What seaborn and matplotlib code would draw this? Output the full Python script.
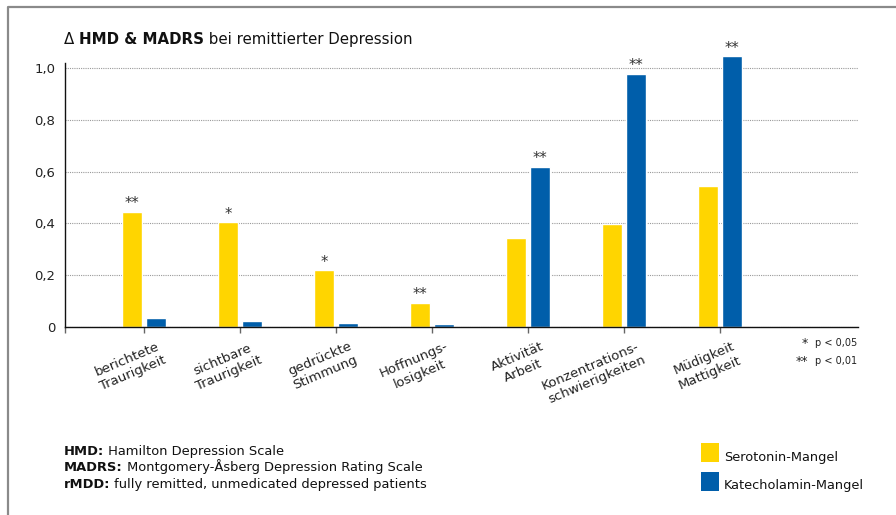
import pandas as pd
import matplotlib.pyplot as plt
import matplotlib.transforms as mtransforms
from matplotlib.lines import Line2D
from matplotlib.patches import Rectangle
import seaborn as sns

# -----------------------------
# DATA
# -----------------------------
categories = [
    "berichtete\nTraurigkeit",
    "sichtbare\nTraurigkeit",
    "gedrückte\nStimmung",
    "Hoffnungs-\nlosigkeit",
    "Aktivität\nArbeit",
    "Konzentrations-\nschwierigkeiten",
    "Müdigkeit\nMattigkeit",
]
serotonin = [0.445, 0.405, 0.22, 0.093, 0.344, 0.399, 0.545]
katecholamin = [0.035, 0.023, 0.015, 0.012, 0.618, 0.977, 1.046]
stars = ["**", "*", "*", "**", "**", "**", "**"]
star_series = [0, 0, 0, 0, 1, 1, 1]  # 0 = Serotonin, 1 = Katecholamin
y_ticks = [0, 0.2, 0.4, 0.6, 0.8, 1.0]
y_tick_labels = ["0", "0,2", "0,4", "0,6", "0,8", "1,0"]

series_names = ["Serotonin-Mangel", "Katecholamin-Mangel"]
palette = {"Serotonin-Mangel": "#FFD500", "Katecholamin-Mangel": "#005EAA"}

notes = [
    ("HMD:", " Hamilton Depression Scale"),
    ("MADRS:", " Montgomery-Åsberg Depression Rating Scale"),
    ("rMDD:", " fully remitted, unmedicated depressed patients"),
]

df = pd.DataFrame({
    "Kategorie": categories * 2,
    "Wert": serotonin + katecholamin,
    "Gruppe": [series_names[0]] * len(categories) + [series_names[1]] * len(categories),
})

# -----------------------------
# FIGURE
# -----------------------------
sns.set_theme(style="white")
plt.rcParams["font.family"] = ["DejaVu Sans"]

W, H = 896, 515
fig = plt.figure(figsize=(W / 100, H / 100), dpi=100)

px_per_unit = 259.0
ax_left, ax_right, ax_zero = 65, 858, 327
ymax = 1.1
ax = fig.add_axes([
    ax_left / W,
    1 - ax_zero / H,
    (ax_right - ax_left) / W,
    ymax * px_per_unit / H,
])

sns.barplot(
    data=df, x="Kategorie", y="Wert", hue="Gruppe",
    palette=palette, width=0.5, gap=0.2, saturation=1,
    legend=False, ax=ax,
)

ax.set_xlim(-0.823, 7.437)
ax.set_ylim(0, ymax)
ax.set_xlabel("")
ax.set_ylabel("")

# grid + spines
ax.set_yticks(y_ticks)
ax.set_yticklabels(y_tick_labels, fontsize=9.5, color="#222222")
ax.yaxis.grid(True, linestyle=(0, (1, 1)), color="#9a9a9a", linewidth=0.8)
ax.set_axisbelow(True)
for s in ["top", "right"]:
    ax.spines[s].set_visible(False)
ax.spines["left"].set_bounds(0, 1.02)
for s in ["left", "bottom"]:
    ax.spines[s].set_color("#111111")
    ax.spines[s].set_linewidth(1.0)
ax.tick_params(axis="y", length=0, pad=7)

# x ticks + rotated labels
ax.set_xticks(range(len(categories)))
ax.set_xticks([-0.823], minor=True)
ax.tick_params(axis="x", which="both", length=4, width=1, color="#666666",
               direction="out", bottom=True, pad=14.4)
ax.set_xticklabels(categories, fontsize=9.5, color="#222222", rotation=23,
                   ha="right", va="center", rotation_mode="anchor",
                   multialignment="center")
shift = mtransforms.ScaledTranslation(0.18, 0, fig.dpi_scale_trans)
for lab in ax.get_xticklabels():
    lab.set_transform(lab.get_transform() + shift)

# significance stars
for i, (s, k) in enumerate(zip(stars, star_series)):
    bar = ax.containers[k][i]
    ax.annotate(s, (bar.get_x() + bar.get_width() / 2, bar.get_height()),
                xytext=(0, 2.5), textcoords="offset points",
                ha="center", va="baseline", fontsize=10.5, color="#333333",
                annotation_clip=False)

# p-value key
fig.text(808 / W, 1 - 343 / H, "*", ha="right", va="center", fontsize=9, color="#222222")
fig.text(815 / W, 1 - 343 / H, "p < 0,05", ha="left", va="center", fontsize=7, color="#222222")
fig.text(808 / W, 1 - 361 / H, "**", ha="right", va="center", fontsize=9, color="#222222")
fig.text(815 / W, 1 - 361 / H, "p < 0,01", ha="left", va="center", fontsize=7, color="#222222")


def chain(x, y, parts, size):
    """Write text pieces (text, bold) one after another on one baseline."""
    prev = fig.text(x, y, parts[0][0], ha="left", va="baseline", fontsize=size,
                    fontweight="bold" if parts[0][1] else "normal", color="#111111")
    for txt, bold in parts[1:]:
        prev = ax.annotate(txt, xy=(1, y), xycoords=(prev, "figure fraction"),
                           ha="left", va="baseline", fontsize=size,
                           fontweight="bold" if bold else "normal",
                           color="#111111", annotation_clip=False)


# title
chain(64 / W, 1 - 44 / H, [("Δ ", False), ("HMD & MADRS", True),
                           (" bei remittierter Depression", False)], 10.8)

# notes below chart
for j, (bold, rest) in enumerate(notes):
    chain(64 / W, 1 - [455, 471, 488][j] / H, [(bold, True), (rest, False)], 9.4)

# legend (drawn by hand to match the square swatches)
for j, name in enumerate(series_names):
    top = [443, 472][j]
    fig.add_artist(Rectangle((701 / W, 1 - (top + 19) / H), 18 / W, 19 / H,
                             transform=fig.transFigure, facecolor=palette[name],
                             edgecolor="none"))
    fig.text(724 / W, 1 - [457, 486][j] / H, name, ha="left", va="center",
             fontsize=9.3, color="#111111")

# frame
fig.add_artist(Line2D([8 / W, 8 / W, 1.0], [0, 1 - 7 / H, 1 - 7 / H],
                      transform=fig.transFigure, color="#8a8a8a", linewidth=1.6))

fig.savefig("out.png", dpi=100)
plt.close(fig)
